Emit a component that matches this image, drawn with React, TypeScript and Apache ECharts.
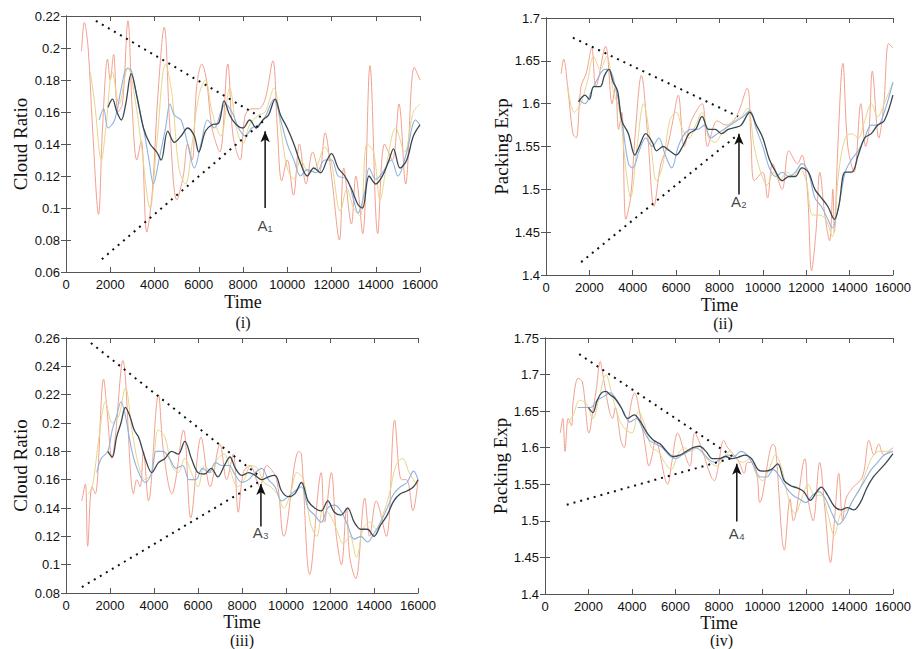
import React, { useEffect, useRef } from "react";
import * as echarts from "echarts";

type P = [number, number];

// ---------- Panel (i): Cloud Ratio ----------
const red1: P[] = [[700,0.198],[830,0.216],[1000,0.200],[1200,0.150],[1470,0.096],[1650,0.150],[1880,0.193],[2000,0.180],[2150,0.196],[2350,0.160],[2550,0.165],[2800,0.217],[3000,0.160],[3200,0.130],[3400,0.142],[3650,0.085],[3900,0.110],[4150,0.170],[4440,0.213],[4700,0.150],[5010,0.105],[5300,0.120],[5500,0.140],[5700,0.130],[5900,0.175],[6140,0.190],[6350,0.180],[6600,0.150],[6950,0.135],[7310,0.190],[7550,0.145],[7870,0.130],[8100,0.158],[8400,0.162],[8700,0.162],[9000,0.168],[9350,0.192],[9550,0.150],[9750,0.117],[10000,0.130],[10280,0.108],[10550,0.140],[10850,0.115],[11150,0.135],[11450,0.122],[11710,0.147],[12000,0.120],[12360,0.080],[12550,0.125],[12900,0.090],[13100,0.120],[13410,0.084],[13740,0.189],[14090,0.084],[14400,0.140],[14750,0.130],[15050,0.165],[15350,0.115],[15740,0.188],[16000,0.180]];
const yel1: P[] = [[1100,0.185],[1300,0.165],[1600,0.130],[1800,0.150],[2100,0.185],[2400,0.165],[2800,0.188],[3100,0.170],[3400,0.140],[3800,0.100],[4100,0.140],[4500,0.190],[4800,0.170],[5100,0.125],[5400,0.115],[5700,0.140],[6000,0.170],[6300,0.180],[6600,0.160],[7000,0.145],[7400,0.175],[7700,0.150],[8000,0.140],[8300,0.152],[8700,0.158],[9000,0.160],[9400,0.175],[9700,0.150],[10000,0.125],[10300,0.118],[10600,0.130],[11000,0.122],[11300,0.125],[11700,0.138],[12000,0.128],[12400,0.098],[12700,0.112],[13000,0.100],[13300,0.095],[13600,0.140],[13900,0.135],[14200,0.105],[14500,0.128],[14900,0.150],[15300,0.135],[15700,0.160],[16000,0.165]];
const blu1: P[] = [[1500,0.155],[1700,0.162],[1900,0.150],[2200,0.155],[2500,0.175],[2750,0.187],[2950,0.186],[3200,0.170],[3500,0.150],[3750,0.130],[3950,0.115],[4200,0.130],[4500,0.150],[4700,0.165],[4900,0.158],[5200,0.155],[5500,0.140],[5800,0.125],[6100,0.140],[6400,0.155],[6700,0.150],[7000,0.160],[7200,0.165],[7500,0.160],[7800,0.150],[8100,0.145],[8400,0.150],[8700,0.152],[9000,0.157],[9400,0.168],[9700,0.155],[10000,0.140],[10300,0.130],[10600,0.120],[10900,0.124],[11300,0.122],[11700,0.130],[12000,0.130],[12300,0.120],[12700,0.118],[13000,0.105],[13200,0.097],[13500,0.110],[13700,0.125],[14000,0.118],[14300,0.122],[14700,0.130],[15000,0.120],[15400,0.135],[15800,0.155],[16000,0.152]];
const blk1: P[] = [[1900,0.163],[2100,0.168],[2300,0.160],[2500,0.155],[2700,0.165],[2950,0.184],[3200,0.170],[3500,0.150],[3800,0.140],[4100,0.135],[4300,0.130],[4600,0.148],[4900,0.141],[5200,0.145],[5500,0.150],[5800,0.145],[6000,0.135],[6300,0.148],[6600,0.152],[6900,0.153],[7150,0.167],[7400,0.158],[7700,0.152],[8000,0.150],[8300,0.155],[8600,0.150],[8900,0.155],[9150,0.158],[9450,0.168],[9700,0.158],[10000,0.150],[10300,0.140],[10600,0.128],[10900,0.120],[11200,0.125],[11500,0.122],[11800,0.130],[12000,0.134],[12300,0.125],[12600,0.120],[12900,0.112],[13200,0.102],[13400,0.100],[13700,0.120],[14000,0.115],[14300,0.120],[14600,0.130],[14800,0.137],[15100,0.125],[15400,0.130],[15700,0.145],[16000,0.152]];
const upper1: P[] = [[1350,0.217],[8900,0.156]];
const lower1: P[] = [[1620,0.068],[8900,0.154]];
const arrow1: P[] = [[9000,0.100],[9000,0.148]];
const label1: P = [9000, 0.089];

// ---------- Panel (ii): Packing Exp ----------
const red2: P[] = [[700,1.635],[815,1.652],[1000,1.62],[1240,1.565],[1390,1.56],[1615,1.62],[1850,1.635],[2110,1.665],[2300,1.62],[2750,1.667],[3050,1.60],[3200,1.62],[3350,1.57],[3500,1.59],[3680,1.465],[3900,1.49],[4100,1.56],[4400,1.633],[4700,1.56],[4980,1.48],[5300,1.53],[5600,1.55],[5850,1.58],[6100,1.61],[6370,1.55],[6700,1.58],[7200,1.60],[7450,1.55],[7900,1.58],[8300,1.575],[8780,1.585],[9280,1.618],[9450,1.56],[9610,1.51],[9990,1.52],[10220,1.49],[10450,1.53],[10890,1.50],[11200,1.545],[11600,1.53],[11800,1.54],[12050,1.50],[12250,1.405],[12450,1.45],[12630,1.52],[12860,1.47],[13080,1.44],[13230,1.50],[13300,1.45],[13460,1.55],[13690,1.647],[13920,1.55],[14210,1.52],[14520,1.60],[14740,1.55],[14900,1.57],[15050,1.638],[15350,1.56],[15580,1.60],[15800,1.67],[16000,1.665]];
const yel2: P[] = [[1000,1.62],[1300,1.59],[1600,1.60],[1900,1.625],[2200,1.655],[2500,1.64],[2800,1.655],[3100,1.615],[3400,1.59],[3700,1.52],[3900,1.49],[4200,1.55],[4500,1.60],[4800,1.56],[5100,1.51],[5400,1.53],[5700,1.58],[6000,1.59],[6300,1.57],[6600,1.56],[6900,1.575],[7200,1.59],[7500,1.56],[7800,1.555],[8100,1.565],[8400,1.575],[8700,1.58],[9000,1.585],[9300,1.595],[9600,1.55],[9900,1.52],[10200,1.505],[10500,1.52],[10800,1.51],[11100,1.52],[11400,1.515],[11700,1.525],[12000,1.51],[12300,1.47],[12600,1.47],[12900,1.465],[13200,1.445],[13500,1.52],[13800,1.56],[14100,1.565],[14400,1.56],[14700,1.58],[15000,1.60],[15300,1.585],[15600,1.60],[16000,1.625]];
const blu2: P[] = [[1500,1.605],[1800,1.60],[2100,1.615],[2400,1.63],[2700,1.64],[2900,1.64],[3200,1.62],[3500,1.58],[3800,1.53],[4000,1.525],[4300,1.545],[4600,1.56],[4900,1.55],[5200,1.56],[5500,1.54],[5800,1.525],[6100,1.55],[6400,1.565],[6700,1.57],[7000,1.57],[7300,1.575],[7600,1.56],[7900,1.565],[8200,1.57],[8500,1.575],[8800,1.58],[9100,1.585],[9400,1.592],[9700,1.57],[10000,1.55],[10300,1.525],[10600,1.515],[10900,1.52],[11200,1.515],[11500,1.52],[11800,1.53],[12100,1.52],[12400,1.49],[12700,1.48],[13000,1.465],[13200,1.455],[13500,1.48],[13800,1.52],[14100,1.535],[14400,1.545],[14700,1.56],[15000,1.575],[15300,1.575],[15600,1.59],[16000,1.625]];
const blk2: P[] = [[1500,1.602],[1800,1.61],[2000,1.605],[2200,1.62],[2500,1.62],[2700,1.633],[2900,1.64],[3100,1.625],[3300,1.615],[3500,1.58],[3800,1.565],[4100,1.54],[4300,1.55],[4600,1.565],[4900,1.555],[5100,1.545],[5400,1.55],[5700,1.545],[6000,1.54],[6300,1.55],[6600,1.565],[6900,1.57],[7200,1.585],[7500,1.57],[7800,1.57],[8100,1.565],[8400,1.57],[8700,1.572],[9000,1.575],[9400,1.59],[9700,1.575],[10000,1.56],[10300,1.535],[10600,1.52],[10900,1.51],[11200,1.515],[11500,1.515],[11800,1.525],[12100,1.52],[12400,1.50],[12700,1.49],[13000,1.48],[13300,1.465],[13500,1.48],[13800,1.52],[14100,1.52],[14400,1.54],[14700,1.56],[15000,1.565],[15300,1.575],[15600,1.58],[16000,1.61]];
const upper2: P[] = [[1240,1.677],[8860,1.585]];
const lower2: P[] = [[1620,1.415],[8860,1.564]];
const arrow2: P[] = [[8900,1.494],[8900,1.565]];
const label2: P = [8900, 1.486];

// ---------- Panel (iii): Cloud Ratio ----------
const red3: P[] = [[720,0.145],[880,0.157],[985,0.113],[1180,0.155],[1330,0.150],[1710,0.231],[1860,0.210],[2090,0.175],[2240,0.190],[2585,0.244],[3070,0.150],[3220,0.160],[3370,0.155],[3520,0.180],[3750,0.145],[4200,0.220],[4430,0.180],[4810,0.150],[5340,0.195],[5670,0.133],[6140,0.190],[6550,0.155],[7000,0.185],[7300,0.160],[7600,0.178],[7830,0.137],[8060,0.165],[8360,0.170],[8810,0.155],[9120,0.170],[9570,0.160],[9900,0.120],[10580,0.180],[10700,0.178],[11080,0.093],[11600,0.165],[11750,0.130],[12060,0.165],[12290,0.120],[12520,0.100],[12750,0.140],[12900,0.105],[13170,0.090],[13580,0.147],[13800,0.120],[14100,0.145],[14560,0.120],[14940,0.202],[15250,0.160],[15480,0.160],[15770,0.138],[16000,0.160]];
const yel3: P[] = [[1000,0.150],[1200,0.155],[1500,0.190],[1800,0.215],[2100,0.200],[2400,0.205],[2700,0.225],[3000,0.195],[3300,0.170],[3600,0.160],[3900,0.165],[4200,0.195],[4500,0.190],[4800,0.170],[5100,0.165],[5400,0.175],[5700,0.165],[6000,0.155],[6300,0.170],[6600,0.165],[6900,0.175],[7200,0.178],[7500,0.165],[7800,0.155],[8100,0.160],[8400,0.170],[8700,0.168],[9000,0.158],[9300,0.155],[9600,0.150],[9900,0.140],[10200,0.150],[10500,0.165],[10800,0.160],[11100,0.130],[11400,0.120],[11700,0.140],[12000,0.135],[12300,0.125],[12600,0.115],[12900,0.120],[13200,0.105],[13500,0.125],[13800,0.130],[14100,0.125],[14400,0.135],[14700,0.150],[15000,0.170],[15300,0.175],[15600,0.165],[16000,0.155]];
const blu3: P[] = [[1400,0.165],[1600,0.175],[1900,0.180],[2100,0.195],[2300,0.205],[2500,0.215],[2700,0.205],[3000,0.180],[3300,0.165],[3600,0.158],[3900,0.165],[4100,0.180],[4400,0.180],[4700,0.175],[5000,0.168],[5300,0.170],[5600,0.160],[5900,0.160],[6200,0.168],[6500,0.165],[6800,0.172],[7100,0.170],[7400,0.170],[7700,0.163],[8000,0.158],[8300,0.160],[8600,0.165],[8900,0.168],[9200,0.160],[9500,0.155],[9800,0.145],[10100,0.148],[10400,0.152],[10700,0.155],[11000,0.140],[11300,0.135],[11600,0.130],[11900,0.140],[12200,0.142],[12500,0.138],[12800,0.128],[13100,0.118],[13400,0.120],[13700,0.116],[14000,0.122],[14300,0.130],[14600,0.140],[14900,0.150],[15200,0.155],[15500,0.158],[15800,0.166],[16000,0.160]];
const blk3: P[] = [[1900,0.180],[2100,0.176],[2300,0.190],[2500,0.200],[2700,0.211],[2900,0.205],[3100,0.195],[3300,0.190],[3600,0.175],[3900,0.165],[4200,0.172],[4500,0.175],[4800,0.180],[5100,0.178],[5400,0.187],[5700,0.175],[6000,0.165],[6300,0.164],[6600,0.168],[6900,0.162],[7200,0.170],[7450,0.176],[7700,0.168],[8000,0.163],[8300,0.165],[8600,0.163],[8900,0.160],[9200,0.162],[9500,0.163],[9800,0.152],[10100,0.148],[10400,0.150],[10700,0.158],[11000,0.145],[11300,0.140],[11600,0.138],[11900,0.145],[12200,0.137],[12500,0.135],[12800,0.140],[13100,0.130],[13400,0.125],[13700,0.125],[14000,0.120],[14300,0.128],[14600,0.135],[14900,0.145],[15200,0.150],[15500,0.152],[15800,0.155],[16000,0.160]];
const upper3: P[] = [[1130,0.2565],[8800,0.1624]];
const lower3: P[] = [[720,0.0842],[8800,0.1588]];
const arrow3: P[] = [[8860,0.127],[8860,0.157]];
const label3: P = [8860, 0.1225];

// ---------- Panel (iv): Packing Exp ----------
const red4: P[] = [[700,1.62],[820,1.64],[920,1.595],[1070,1.64],[1220,1.63],[1300,1.665],[1525,1.695],[1720,1.69],[2025,1.62],[2200,1.65],[2360,1.68],[2540,1.718],[2660,1.70],[2960,1.65],[3110,1.64],[3230,1.655],[3490,1.61],[3640,1.60],[3790,1.63],[4125,1.675],[4400,1.64],[4620,1.60],[4780,1.575],[4930,1.59],[5080,1.61],[5640,1.55],[5830,1.58],[6100,1.62],[6440,1.59],[6660,1.575],[6890,1.62],[7190,1.60],[7640,1.56],[7790,1.555],[7940,1.57],[8220,1.61],[8400,1.60],[8700,1.59],[8930,1.58],[9160,1.565],[9310,1.58],[9540,1.58],[9760,1.56],[9880,1.525],[10490,1.605],[10600,1.60],[11010,1.46],[11270,1.53],[11420,1.50],[11950,1.585],[12100,1.53],[12330,1.50],[12630,1.58],[12860,1.52],[13130,1.443],[13310,1.50],[13510,1.565],[13690,1.50],[13840,1.53],[14140,1.545],[14600,1.56],[14900,1.61],[15130,1.59],[15350,1.605],[15580,1.59],[16000,1.60]];
const yel4: P[] = [[1000,1.63],[1300,1.645],[1600,1.665],[1900,1.66],[2200,1.64],[2500,1.67],[2800,1.70],[3100,1.67],[3400,1.64],[3700,1.625],[4000,1.62],[4300,1.65],[4600,1.63],[4900,1.60],[5200,1.595],[5500,1.58],[5800,1.57],[6100,1.59],[6400,1.60],[6700,1.595],[7000,1.60],[7300,1.59],[7600,1.58],[7900,1.575],[8200,1.585],[8500,1.595],[8800,1.585],[9100,1.58],[9400,1.585],[9700,1.565],[10000,1.555],[10300,1.57],[10600,1.59],[10900,1.57],[11200,1.53],[11500,1.51],[11800,1.53],[12100,1.55],[12400,1.535],[12700,1.535],[13000,1.51],[13300,1.48],[13600,1.51],[13900,1.515],[14200,1.53],[14500,1.545],[14800,1.57],[15100,1.59],[15400,1.595],[15700,1.595],[16000,1.60]];
const blu4: P[] = [[1500,1.655],[1800,1.655],[2100,1.655],[2400,1.665],[2700,1.67],[3000,1.675],[3300,1.665],[3600,1.65],[3900,1.635],[4200,1.64],[4500,1.625],[4800,1.61],[5100,1.605],[5400,1.60],[5700,1.59],[6000,1.585],[6300,1.59],[6600,1.595],[6900,1.60],[7200,1.595],[7500,1.585],[7800,1.58],[8100,1.585],[8400,1.59],[8700,1.588],[9000,1.595],[9300,1.59],[9600,1.575],[9900,1.56],[10200,1.56],[10500,1.57],[10800,1.56],[11100,1.545],[11400,1.535],[11700,1.53],[12000,1.525],[12300,1.535],[12600,1.54],[12900,1.53],[13200,1.51],[13500,1.495],[13800,1.505],[14100,1.525],[14400,1.54],[14700,1.555],[15000,1.57],[15300,1.58],[15600,1.59],[16000,1.595]];
const blk4: P[] = [[2000,1.655],[2200,1.648],[2400,1.665],[2600,1.675],[2800,1.677],[3000,1.672],[3200,1.668],[3500,1.655],[3800,1.64],[4100,1.645],[4400,1.635],[4700,1.62],[5000,1.61],[5300,1.605],[5600,1.595],[5900,1.588],[6200,1.59],[6500,1.595],[6800,1.60],[7100,1.602],[7400,1.595],[7700,1.585],[8000,1.585],[8300,1.588],[8600,1.585],[8900,1.587],[9200,1.59],[9500,1.585],[9800,1.57],[10100,1.568],[10400,1.57],[10700,1.578],[11000,1.555],[11300,1.548],[11600,1.545],[11900,1.54],[12200,1.528],[12500,1.54],[12700,1.546],[13000,1.535],[13300,1.52],[13600,1.515],[13900,1.518],[14200,1.515],[14500,1.525],[14800,1.545],[15100,1.56],[15400,1.57],[15700,1.58],[16000,1.592]];
const upper4: P[] = [[1570,1.728],[8630,1.588]];
const lower4: P[] = [[1000,1.522],[8630,1.586]];
const arrow4: P[] = [[8820,1.499],[8820,1.578]];
const label4: P = [8820, 1.483];

const xTicks = { min: 0, max: 16000, interval: 2000 };

const panels = [
  { grid: { left: 66, top: 16, width: 354, height: 256 }, xGap: 21, tagGap: 50, yMin: 0.06, yMax: 0.22, yInt: 0.02, yName: "Cloud Ratio", yGap: 36, tag: "(i)", lines: [red1, yel1, blu1, blk1], upper: upper1, lower: lower1, arrow: arrow1, label: label1, labelText: "A\u2081" },
  { grid: { left: 546, top: 18, width: 354, height: 257 }, xGap: 21, tagGap: 48, yMin: 1.4, yMax: 1.7, yInt: 0.05, yName: "Packing Exp", yGap: 35, tag: "(ii)", lines: [red2, yel2, blu2, blk2], upper: upper2, lower: lower2, arrow: arrow2, label: label2, labelText: "A\u2082" },
  { grid: { left: 66, top: 338, width: 352, height: 255 }, xGap: 18, tagGap: 47, yMin: 0.08, yMax: 0.26, yInt: 0.02, yName: "Cloud Ratio", yGap: 36, tag: "(iii)", lines: [red3, yel3, blu3, blk3], upper: upper3, lower: lower3, arrow: arrow3, label: label3, labelText: "A\u2083" },
  { grid: { left: 545, top: 338, width: 353, height: 256 }, xGap: 18, tagGap: 46, yMin: 1.4, yMax: 1.75, yInt: 0.05, yName: "Packing Exp", yGap: 35, tag: "(iv)", lines: [red4, yel4, blu4, blk4], upper: upper4, lower: lower4, arrow: arrow4, label: label4, labelText: "A\u2084" },
];

const lineColors = ["#f2a08e", "#e6d58a", "#8fb2e0", "#3b474d"];
const lineWidths = [1, 1, 1.1, 1.3];

const SANS = "Liberation Sans, Arial, sans-serif";
const SERIF = "Liberation Serif, Times New Roman, serif";

function buildOption() {
  const grid: any[] = [];
  const xAxis: any[] = [];
  const yAxis: any[] = [];
  const series: any[] = [];
  const graphic: any[] = [];
  const axisLine = { show: true, lineStyle: { color: "#555", width: 1 } };
  const axisTick = { show: true, inside: true, length: 5, lineStyle: { color: "#555" } };
  const tickLabel = { color: "#111", fontFamily: SANS, fontSize: 13, margin: 6, formatter: (v: number) => String(+v.toFixed(4)) };

  panels.forEach((p, i) => {
    grid.push({ ...p.grid, containLabel: false });
    xAxis.push({
      type: "value", gridIndex: i, position: "bottom", ...xTicks,
      axisLine, axisTick, splitLine: { show: false },
      axisLabel: tickLabel,
      name: "Time", nameLocation: "middle", nameGap: p.xGap,
      nameTextStyle: { fontFamily: SERIF, fontSize: 18, color: "#111", lineHeight: 18 },
    });
    xAxis.push({
      type: "value", gridIndex: i, position: "top", ...xTicks,
      axisLine, axisTick, splitLine: { show: false }, axisLabel: { show: false },
    });
    yAxis.push({
      type: "value", gridIndex: i, position: "left", min: p.yMin, max: p.yMax, interval: p.yInt,
      axisLine, axisTick, splitLine: { show: false },
      axisLabel: tickLabel,
      name: p.yName, nameLocation: "middle", nameGap: p.yGap, nameRotate: 90,
      nameTextStyle: { fontFamily: SERIF, fontSize: 19, color: "#111" },
    });
    yAxis.push({
      type: "value", gridIndex: i, position: "right", min: p.yMin, max: p.yMax, interval: p.yInt,
      axisLine, axisTick, splitLine: { show: false }, axisLabel: { show: false },
    });
    const xi = 2 * i;
    const yi = 2 * i;
    p.lines.forEach((d, k) => {
      series.push({
        type: "line", xAxisIndex: xi, yAxisIndex: yi, data: d, showSymbol: false,
        smooth: 0.35, lineStyle: { color: lineColors[k], width: lineWidths[k] }, silent: true,
      });
    });
    [p.upper, p.lower].forEach((d) => {
      series.push({
        type: "line", xAxisIndex: xi, yAxisIndex: yi, data: d, showSymbol: false,
        lineStyle: { color: "#111", width: 2, type: [2, 5] }, silent: true,
      });
    });
    series.push({
      type: "line", xAxisIndex: xi, yAxisIndex: yi, showSymbol: true,
      data: [
        { value: p.arrow[0], symbol: "none" },
        { value: p.arrow[1], symbol: "arrow", symbolSize: [7, 11], itemStyle: { color: "#111" } },
      ],
      lineStyle: { color: "#111", width: 1.5 }, silent: true,
    });
    series.push({
      type: "scatter", xAxisIndex: xi, yAxisIndex: yi, symbolSize: 1,
      itemStyle: { color: "rgba(0,0,0,0)" },
      data: [p.label],
      label: { show: true, position: "inside", formatter: p.labelText, fontFamily: "Liberation Sans, DejaVu Sans, sans-serif", fontSize: 15, color: "#111" },
      silent: true,
    });
    graphic.push({
      type: "text",
      x: p.grid.left + p.grid.width / 2,
      y: p.grid.top + p.grid.height + p.tagGap,
      style: { text: p.tag, font: `16px ${SERIF}`, fill: "#111", align: "center", verticalAlign: "middle" },
    });
  });

  return { animation: false, backgroundColor: "#fff", grid, xAxis, yAxis, series, graphic };
}

export default function App() {
  const ref = useRef<HTMLDivElement>(null);
  useEffect(() => {
    if (!ref.current) return;
    const chart = echarts.init(ref.current, undefined, { renderer: "svg" });
    chart.setOption(buildOption() as any);
    return () => chart.dispose();
  }, []);
  return <div ref={ref} style={{ position: "fixed", left: 0, top: 0, width: 914, height: 649 }} />;
}
